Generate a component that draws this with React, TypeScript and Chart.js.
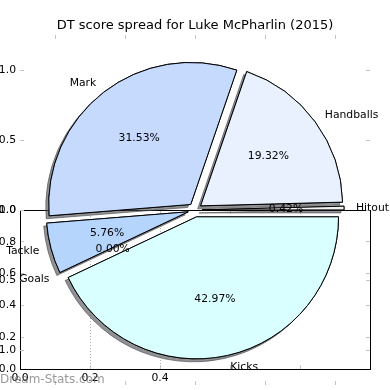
import React, { useEffect, useRef } from 'react';
import { Chart, registerables } from 'chart.js';

Chart.register(...registerables);

const TITLE = 'DT score spread for Luke McPharlin (2015)';
const WATERMARK = 'Dream-Stats.com';

// slices in the original (counter-clockwise from 3 o'clock) order
const categories = ['Hitout', 'Handballs', 'Mark', 'Tackle', 'Goals', 'Kicks'];
const shares = [0.42, 19.32, 31.53, 5.76, 0.0, 42.97];
const sliceColors = ['#f2f2f2', '#e9f1fe', '#c6dafd', '#b6d5fd', '#c8c8ff', '#d9ffff'];

// pie axes ticks
const pieTicks = [-1, -0.5, 0, 0.5, 1];
const pieTickLabels = ['\u22121.0', '\u22120.5', '0.0', '0.5', '1.0'];

// lower framed axes ticks
const boxTicks = [0, 0.2, 0.4, 0.6, 0.8, 1.0];
const boxTickLabelsX = ['0.0', '0.2', '0.4', '', '', ''];
const boxTickLabelsY = ['0.0', '0.2', '0.4', '0.6', '0.8', '1.0'];
const boxGridX = [0.2, 0.4];

const FAMILY = '"DejaVu Sans", Verdana, sans-serif';
const SMALL = 10.8;
const EXPLODE = 0.05;
const LABEL_DIST = 1.1;
const PCT_DIST = 0.6;
const TICK_GRAY = '#c4c4c4';

const fixedTicks = (values: number[]) => (scale: any) => {
  scale.ticks = values.map((v) => ({ value: v }));
};
const fixedSize = (w: number | null, h: number | null) => (scale: any) => {
  if (w !== null) scale.width = w;
  if (h !== null) scale.height = h;
  scale.paddingLeft = 0;
  scale.paddingRight = 0;
  scale.paddingTop = 0;
  scale.paddingBottom = 0;
};

const tickFont = { family: FAMILY, size: SMALL, weight: 'normal' as const };

// one data unit of the pie axes in pixels
const pieUnit = (chart: any) => {
  const y = chart.scales.y;
  return Math.abs(y.getPixelForValue(0) - y.getPixelForValue(1));
};

const explodedPie = {
  id: 'explodedPie',
  beforeDatasetDraw(chart: any, args: any) {
    const meta = args.meta;
    if (meta.type !== 'pie') return;
    const ctx = chart.ctx;
    const arcs = meta.data;
    const d = EXPLODE * pieUnit(chart);
    const pass = (shadow: boolean) => {
      arcs.forEach((arc: any) => {
        const mid = (arc.startAngle + arc.endAngle) / 2;
        ctx.save();
        ctx.translate(Math.cos(mid) * d, Math.sin(mid) * d);
        if (shadow) {
          ctx.shadowColor = 'rgba(70,72,76,0.6)';
          ctx.shadowOffsetX = -3;
          ctx.shadowOffsetY = 3;
          ctx.shadowBlur = 0;
        }
        arc.draw(ctx);
        ctx.restore();
      });
    };
    pass(true);
    pass(false);
    return false;
  },
  afterDatasetsDraw(chart: any) {
    const meta = chart.getDatasetMeta(0);
    const labels = chart.data.labels;
    const values = chart.data.datasets[0].data;
    const ctx = chart.ctx;
    const R = pieUnit(chart);
    ctx.save();
    ctx.font = `${SMALL}px ${FAMILY}`;
    ctx.fillStyle = '#000';
    ctx.textBaseline = 'middle';
    meta.data.forEach((arc: any, i: number) => {
      const mid = (arc.startAngle + arc.endAngle) / 2;
      const c = Math.cos(mid);
      const s = Math.sin(mid);
      const cx = arc.x + c * EXPLODE * R;
      const cy = arc.y + s * EXPLODE * R;
      const lx = cx + c * LABEL_DIST * R;
      const ly = cy + s * LABEL_DIST * R;
      ctx.textAlign = lx > arc.x ? 'left' : 'right';
      ctx.fillText(labels[i], lx, ly);
      ctx.textAlign = 'center';
      ctx.fillText(`${Number(values[i]).toFixed(2)}%`, cx + c * PCT_DIST * R, cy + s * PCT_DIST * R);
    });
    ctx.restore();
  },
  afterDraw(chart: any) {
    const ctx = chart.ctx;
    ctx.save();
    ctx.font = `12px ${FAMILY}`;
    ctx.fillStyle = 'rgba(100,100,100,0.65)';
    ctx.textBaseline = 'middle';
    ctx.textAlign = 'left';
    ctx.fillText(WATERMARK, 0, 380);
    ctx.restore();
  },
};

export default function App() {
  const boxRef = useRef<HTMLCanvasElement>(null);
  const pieRef = useRef<HTMLCanvasElement>(null);

  useEffect(() => {
    const order = categories.map((_, i) => categories.length - 1 - i);
    const pieLabels = order.map((i) => categories[i]);
    const pieValues = order.map((i) => shares[i]);
    const pieColors = order.map((i) => sliceColors[i]);

    const gridBase = { drawOnChartArea: false, drawTicks: true, tickLength: -4, tickColor: TICK_GRAY, lineWidth: 1 };
    const frame = { display: true, color: '#000', width: 1 };

    const boxChart = new Chart(boxRef.current as HTMLCanvasElement, {
      type: 'scatter',
      data: { datasets: [] },
      options: {
        responsive: false,
        animation: false,
        events: [],
        layout: { padding: 0 },
        plugins: { legend: { display: false }, tooltip: { enabled: false }, title: { display: false } },
        scales: {
          x: {
            type: 'linear', position: 'bottom', min: 0, max: 1,
            afterBuildTicks: fixedTicks(boxTicks), afterFit: fixedSize(null, 21),
            ticks: { callback: (_v: any, i: number) => boxTickLabelsX[i], color: '#000', font: tickFont, padding: 7, maxRotation: 0, autoSkip: false },
            grid: {
              ...gridBase, drawOnChartArea: true,
              color: (c: any) => (c.tick && boxGridX.includes(c.tick.value) ? '#b4b4b4' : 'rgba(0,0,0,0)'),
            },
            border: { ...frame, dash: [1, 2] },
          },
          x2: {
            type: 'linear', position: 'top', min: 0, max: 1,
            afterBuildTicks: fixedTicks(boxTicks), afterFit: fixedSize(null, 210),
            ticks: { display: false },
            grid: gridBase, border: frame,
          },
          y: {
            type: 'linear', position: 'left', min: 0, max: 1,
            afterBuildTicks: fixedTicks(boxTicks), afterFit: fixedSize(20, null),
            ticks: { callback: (_v: any, i: number) => boxTickLabelsY[i], color: '#000', font: tickFont, padding: 8, autoSkip: false },
            grid: gridBase, border: frame,
          },
          y2: {
            type: 'linear', position: 'right', min: 0, max: 1,
            afterBuildTicks: fixedTicks(boxTicks), afterFit: fixedSize(20, null),
            ticks: { display: false },
            grid: gridBase, border: frame,
          },
        },
      } as any,
    });

    const noBorder = { display: false };
    const pieChart = new Chart(pieRef.current as HTMLCanvasElement, {
      type: 'scatter',
      data: {
        labels: pieLabels,
        datasets: [
          {
            type: 'pie',
            data: pieValues,
            backgroundColor: pieColors,
            borderColor: '#000',
            borderWidth: 1,
            radius: 142,
            rotation: 90,
          } as any,
        ],
      },
      options: {
        responsive: false,
        animation: false,
        events: [],
        layout: { padding: 0 },
        plugins: {
          legend: { display: false },
          tooltip: { enabled: false },
          title: {
            display: true, text: TITLE, color: '#000',
            font: { family: FAMILY, size: 13, weight: 'normal', lineHeight: 1.2 },
            padding: { top: 18, bottom: 1.4 },
          },
        },
        scales: {
          x: {
            type: 'linear', position: 'bottom', min: -1.25, max: 1.25,
            afterBuildTicks: fixedTicks(pieTicks), afterFit: fixedSize(null, 5),
            ticks: { callback: (_v: any, i: number) => pieTickLabels[i], color: '#000', font: tickFont, padding: 11, maxRotation: 0, autoSkip: false },
            grid: gridBase, border: noBorder,
          },
          xt: {
            type: 'linear', position: 'top', min: -1.25, max: 1.25,
            afterBuildTicks: fixedTicks(pieTicks), afterFit: fixedSize(null, 0),
            ticks: { display: false },
            grid: gridBase, border: noBorder,
          },
          y: {
            type: 'linear', position: 'left', min: -1.25, max: 1.25,
            afterBuildTicks: fixedTicks(pieTicks), afterFit: fixedSize(20, null),
            ticks: { callback: (_v: any, i: number) => pieTickLabels[i], color: '#000', font: tickFont, padding: 8, autoSkip: false },
            grid: gridBase, border: noBorder,
          },
          yr: {
            type: 'linear', position: 'right', min: -1.25, max: 1.25,
            afterBuildTicks: fixedTicks(pieTicks), afterFit: fixedSize(20, null),
            ticks: { display: false },
            grid: gridBase, border: noBorder,
          },
        },
      } as any,
      plugins: [explodedPie],
    });

    return () => {
      pieChart.destroy();
      boxChart.destroy();
    };
  }, []);

  const canvasStyle: React.CSSProperties = { position: 'absolute', left: 0, top: 0, width: 390, height: 390 };
  return (
    <div style={{ position: 'fixed', left: 0, top: 0, width: 390, height: 390, background: '#fff' }}>
      <canvas ref={boxRef} width={390} height={390} style={canvasStyle} />
      <canvas ref={pieRef} width={390} height={390} style={canvasStyle} />
    </div>
  );
}
